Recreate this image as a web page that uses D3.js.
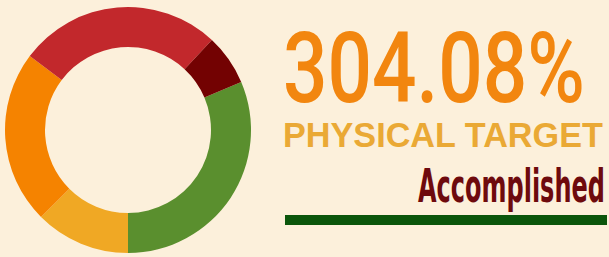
<!doctype html>
<html>
<head>
<style>
	body { margin: 0; background: #fcf0db; }
	svg { display: block; }
</style>
</head>
<body>
	<div class="chart"></div>

	<script src="https://d3js.org/d3.v7.min.js"></script>
	<script>
		// segment shares, in the order they run clockwise from the green one
		let segments = ["Green", "Yellow", "Orange", "Red", "Maroon"];
		let shares = [113, 45, 82, 96, 24];
		let colors = ["#5a8f2e", "#f0a824", "#f58300", "#c2282c", "#730202"];

		let percentLabel = "304.08%";
		let targetLabel = "PHYSICAL TARGET";
		let statusLabel = "Accomplished";

		let width = 609,
			height = 257,
			cx = 128,
			cy = 130,
			outerR = 123,
			innerR = 83;

		let svg = d3.select(".chart")
			.append("svg")
			.attr("width", width)
			.attr("height", height);

		svg.append("rect")
			.attr("width", width)
			.attr("height", height)
			.attr("fill", "#fcf0db");

		let start = 67 * Math.PI / 180;
		let pie = d3.pie().sort(null)
			.startAngle(start)
			.endAngle(start + 2 * Math.PI);

		let arc = d3.arc().innerRadius(innerR).outerRadius(outerR);

		let color = d3.scaleOrdinal().domain(segments).range(colors);

		svg.append("g")
			.attr("transform", "translate(" + cx + "," + cy + ")")
			.selectAll("path")
			.data(pie(shares))
			.enter()
			.append("path")
			.attr("d", arc)
			.attr("fill", (d, i) => color(segments[i]));

		// text squeezed horizontally so it fills the given width
		function fitText(label, x, y, w, font, weight, size, fill) {
			let t = svg.append("text")
				.style("font-family", font)
				.style("font-weight", weight)
				.style("font-size", size + "px")
				.style("fill", fill)
				.text(label);
			let natural = t.node().getComputedTextLength();
			t.attr("transform", "translate(" + x + "," + y + ") scale(" + (w / natural) + ",1)");
			return t;
		}

		fitText(percentLabel, 283, 102, 302, "Roboto, sans-serif", "500", 98, "#f2860f");
		fitText(targetLabel, 283, 147, 320, "'Liberation Sans', sans-serif", "bold", 35, "#eaa935");
		fitText(statusLabel, 418, 202, 187, "'DejaVu Sans', sans-serif", "bold", 46, "#6e0a0d");

		svg.append("rect")
			.attr("x", 285)
			.attr("y", 215)
			.attr("width", 322)
			.attr("height", 10)
			.attr("fill", "#0b560b");
	</script>
</body>
</html>
